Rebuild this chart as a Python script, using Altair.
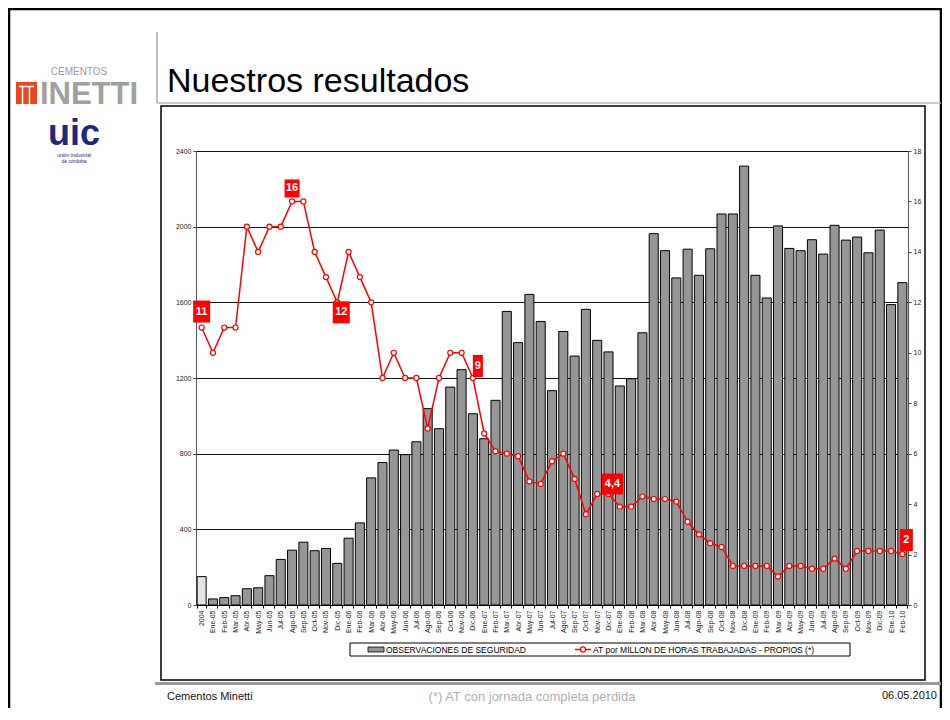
import altair as alt
import pandas as pd

# ---------------- data ----------------
cats = ["2004",
        "Ene-05", "Feb-05", "Mar-05", "Abr-05", "May-05", "Jun-05", "Jul-05", "Ago-05", "Sep-05", "Oct-05", "Nov-05", "Dic-05",
        "Ene-06", "Feb-06", "Mar-06", "Abr-06", "May-06", "Jun-06", "Jul-06", "Ago-06", "Sep-06", "Oct-06", "Nov-06", "Dic-06",
        "Ene-07", "Feb-07", "Mar-07", "Abr-07", "May-07", "Jun-07", "Jul-07", "Ago-07", "Sep-07", "Oct-07", "Nov-07", "Dic-07",
        "Ene-08", "Feb-08", "Mar-08", "Abr-08", "May-08", "Jun-08", "Jul-08", "Ago-08", "Sep-08", "Oct-08", "Nov-08", "Dic-08",
        "Ene-09", "Feb-09", "Mar-09", "Abr-09", "May-09", "Jun-09", "Jul-09", "Ago-09", "Sep-09", "Oct-09", "Nov-09", "Dic-09",
        "Ene-10", "Feb-10"]

obs = [150,
       32, 39, 49, 86, 91, 155, 241, 290, 332, 287, 299, 220,
       353, 434, 672, 753, 819, 795, 863, 1038, 932, 1152, 1244, 1011,
       879, 1082, 1552, 1387, 1642, 1499, 1133, 1446, 1316, 1563, 1399, 1338,
       1158, 1196, 1439, 1963, 1873, 1729, 1881, 1743, 1883, 2067, 2067, 2320,
       1743, 1623, 2004, 1885, 1873, 1931, 1855, 2007, 1929, 1945, 1862, 1982,
       1588, 1704]

at = [11,
      10, 11, 11, 15, 14, 15, 15, 16, 16, 14, 13, 12,
      14, 13, 12, 9, 10, 9, 9, 7, 9, 10, 10, 9,
      6.8, 6.1, 6.0, 5.9, 4.9, 4.8, 5.7, 6.0, 5.0, 3.6, 4.4, 4.4,
      3.9, 3.9, 4.3, 4.2, 4.2, 4.1, 3.3, 2.8, 2.45, 2.3, 1.55, 1.55,
      1.55, 1.55, 1.13, 1.55, 1.55, 1.44, 1.44, 1.84, 1.44, 2.14, 2.14, 2.14,
      2.14, 2.02]

ann_cats = ["2004", "Ago-05", "Dic-05", "Dic-06", "Dic-07", "Feb-10"]
ann_vals = [11, 16, 12, 9, 4.4, 2.02]
ann_text = ["11", "16", "12", "9", "4,4", "2"]

y_left_ticks = [0, 400, 800, 1200, 1600, 2000, 2400]
y_right_ticks = [0, 2, 4, 6, 8, 10, 12, 14, 16, 18]

legend_bar = "OBSERVACIONES DE SEGURIDAD"
legend_line = "AT por MILLON DE HORAS TRABAJADAS - PROPIOS (*)"
title_text = "Nuestros resultados"
footer_left = "Cementos Minetti"
footer_mid = "(*) AT con jornada completa perdida"
footer_right = "06.05.2010"

# ---------------- styling / layout ----------------
FONT = "Liberation Sans, Arial, sans-serif"
PLOT_X0, PLOT_Y0 = 196, 151      # page position of plot origin
W, H = 712, 454


def px(x):
    return x - PLOT_X0


def py(y):
    return y - PLOT_Y0


# annotation box styling: dx, dy, width, height
ann_style = [(0, -16, 17, 22), (0, -13, 15, 18), (4, 10, 17, 22),
             (5, -12, 10, 22), (4, -10, 21, 21), (4, -14, 13, 22)]

df = pd.DataFrame({"cat": cats, "obs": obs, "at": at})

x_enc = alt.X("cat:N", sort=cats,
              scale=alt.Scale(domain=cats, paddingInner=0.2, paddingOuter=0.1),
              axis=alt.Axis(title=None, labelAngle=270, labelFontSize=7, labelColor="#222",
                            labelAlign="right", labelBaseline="middle", labelPadding=2,
                            tickBand="extent", tickSize=3, tickColor="#000",
                            domainColor="#000", labelFont=FONT))

y_left = alt.Y("obs:Q", scale=alt.Scale(domain=[0, 2400], nice=False),
               axis=alt.Axis(title=None, values=y_left_ticks, format="d", grid=True, gridColor="#111",
                             gridWidth=1, labelFontSize=7, labelColor="#222", tickSize=3,
                             tickColor="#444", domainColor="#555", labelFont=FONT,
                             labelPadding=2))

y_right = alt.Y("at:Q", scale=alt.Scale(domain=[0, 18], nice=False),
                axis=alt.Axis(title=None, orient="right", values=y_right_ticks, format="d", grid=False,
                              labelFontSize=7, labelColor="#222", tickSize=3,
                              tickColor="#444", domainColor="#555", labelFont=FONT,
                              labelPadding=2))

bars = alt.Chart(df).mark_bar(stroke="black", strokeWidth=1).encode(
    x=x_enc, y=y_left,
    color=alt.condition("datum.cat == '2004'", alt.value("#e4e4e4"), alt.value("#969696")),
)

line = alt.Chart(df).mark_line(color="#ff0000", strokeWidth=1.5).encode(x=x_enc, y=y_right)
pts = alt.Chart(df).mark_point(filled=True, fill="white", stroke="#ff0000", strokeWidth=1.2,
                               size=26, opacity=1).encode(x=x_enc, y=y_right)

ann_layers = []
for c, v, t, (dx, dy, w, h) in zip(ann_cats, ann_vals, ann_text, ann_style):
    d = pd.DataFrame({"cat": [c], "at": [v], "label": [t]})
    m = max(w, h)
    hw, hh = (w / 2) / (m / 2), (h / 2) / (m / 2)
    shape = f"M{-hw},{-hh}L{hw},{-hh}L{hw},{hh}L{-hw},{hh}Z"
    box = alt.Chart(d).mark_point(shape=shape, filled=True, fill="#ff0000", stroke=None,
                                  size=m * m, opacity=1, xOffset=dx, yOffset=dy).encode(
        x=x_enc, y=y_right)
    txt = alt.Chart(d).mark_text(color="white", fontWeight="bold", fontSize=11, font=FONT,
                                 dx=dx, dy=dy, baseline="middle", align="center").encode(
        x=x_enc, y=y_right, text="label:N")
    ann_layers += [box, txt]

right_layer = alt.layer(line, pts, *ann_layers)

one = alt.Data(values=[{"k": 1}])


def rect(x1, y1, x2, y2, **kw):
    return alt.Chart(one).mark_rect(**kw).encode(
        x=alt.value(px(x1)), x2=alt.value(px(x2)), y=alt.value(py(y1)), y2=alt.value(py(y2)))


def rule(x1, y1, x2, y2, **kw):
    return alt.Chart(one).mark_rule(**kw).encode(
        x=alt.value(px(x1)), x2=alt.value(px(x2)), y=alt.value(py(y1)), y2=alt.value(py(y2)))


def text(x, y, s, **kw):
    return alt.Chart(one).mark_text(text=s, **kw).encode(x=alt.value(px(x)), y=alt.value(py(y)))


decor = [
    # slide frame
    rect(9, 9, 941, 760, fill=None, stroke="black", strokeWidth=2.5),
    # title separators
    rule(157, 32, 157, 103, color="#a8a8a8", strokeWidth=1.5),
    rule(157, 103, 941, 103, color="#b8b8b8", strokeWidth=1.5),
    # chart box
    rect(161, 106, 925, 680, fill=None, stroke="black", strokeWidth=1.5),
    # footer line
    rule(155, 683.5, 941, 683.5, color="#9a9a9a", strokeWidth=3),
    text(167, 697, footer_left, align="left", baseline="middle", fontSize=11, font=FONT, color="#111"),
    text(532, 697, footer_mid, align="center", baseline="middle", fontSize=13, font=FONT, color="#b0b0b0"),
    text(937, 696, footer_right, align="right", baseline="middle", fontSize=11, font=FONT, color="#111"),
    # title
    text(167, 92, title_text, align="left", baseline="alphabetic", fontSize=34, font=FONT, color="#000"),
    # logos
    text(79, 72, "CEMENTOS", align="center", baseline="middle", fontSize=10, font=FONT, color="#9a9a9a"),
    rect(16, 82, 37, 104, fill="#e9471e", stroke=None),
    rule(19, 86.5, 34, 86.5, color="white", strokeWidth=1.5),
    rule(22.5, 87, 22.5, 104, color="white", strokeWidth=1.5),
    rule(29.5, 87, 29.5, 104, color="white", strokeWidth=1.5),
    text(89, 104, "INETTI", align="center", baseline="alphabetic", fontSize=31, fontWeight="bold",
         font=FONT, color="#a0a0a0"),
    text(74, 145, "uic", align="center", baseline="alphabetic", fontSize=36, fontWeight="bold",
         font=FONT, color="#1d2a78"),
    text(74, 155, "unión industrial", align="center", baseline="middle", fontSize=5, font=FONT, color="#1d2a78"),
    text(74, 161, "de córdoba", align="center", baseline="middle", fontSize=5, font=FONT, color="#1d2a78"),
    # legend
    rect(350, 643, 850, 656, fill="white", stroke="black", strokeWidth=1),
    rect(368, 647, 384, 652, fill="#969696", stroke="black", strokeWidth=0.8),
    text(386, 649.8, legend_bar, align="left", baseline="middle", fontSize=8.5, font=FONT, color="#000"),
    rule(575, 649.5, 591, 649.5, color="#ff0000", strokeWidth=1.5),
    alt.Chart(one).mark_point(filled=True, fill="white", stroke="#ff0000", strokeWidth=1.2, size=26,
                              opacity=1).encode(x=alt.value(px(583)), y=alt.value(py(649.5))),
    text(593, 649.8, legend_line, align="left", baseline="middle", fontSize=8.5, font=FONT, color="#000"),
]

chart = alt.layer(bars, right_layer, *decor).resolve_scale(y="independent").properties(
    width=W, height=H,
    padding={"left": 188, "top": 143, "right": 34, "bottom": 103},
    autosize=alt.AutoSizeParams(type="none"),
).configure_view(stroke=None).configure(background="white")

chart.save("out.html", embed_options={"renderer": "svg", "actions": False})
